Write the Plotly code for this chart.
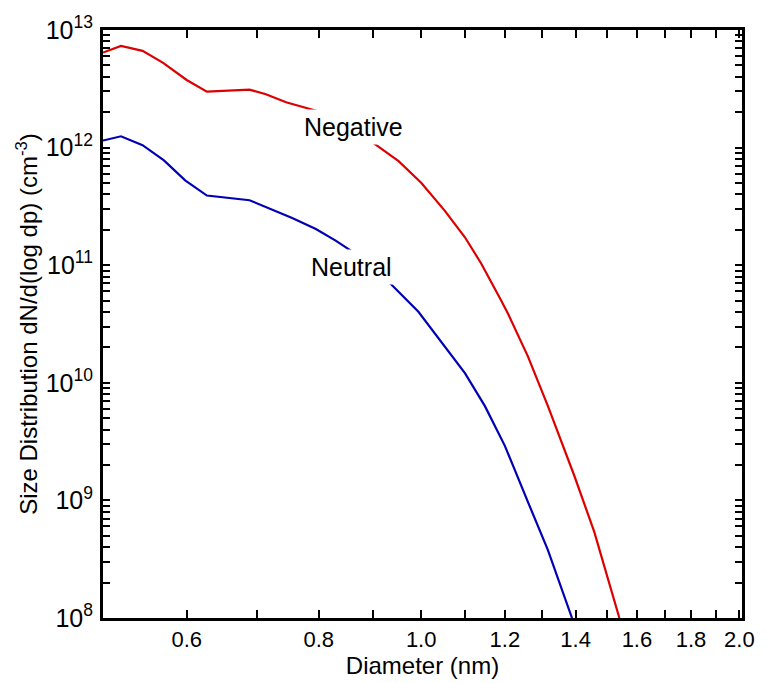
import numpy as np
import plotly.graph_objects as go

# ---- data ----
neg_diam = [0.50, 0.52, 0.545, 0.57, 0.60, 0.627, 0.688, 0.713, 0.745, 0.80,
            0.898, 0.952, 1.00, 1.053, 1.10, 1.14, 1.19, 1.208, 1.262, 1.318,
            1.396, 1.458, 1.54]
neg_conc = [6.43e12, 7.33e12, 6.65e12, 5.26e12, 3.76e12, 2.99e12, 3.11e12, 2.84e12,
            2.43e12, 2.03e12, 1.117e12, 7.67e11, 5.03e11, 2.90e11, 1.727e11,
            1.03e11, 5.04e10, 3.89e10, 1.67e10, 6.33e9, 1.62e9, 5.40e8, 1.0e8]

neu_diam = [0.50, 0.52, 0.545, 0.571, 0.598, 0.627, 0.688, 0.718, 0.755, 0.795,
            0.830, 0.860, 0.932, 0.994, 1.053, 1.10, 1.149, 1.20, 1.262, 1.318,
            1.389]
neu_conc = [1.148e12, 1.248e12, 1.048e12, 7.78e11, 5.27e11, 3.91e11, 3.57e11,
            3.06e11, 2.52e11, 2.03e11, 1.62e11, 1.31e11, 7.20e10, 4.02e10,
            2.03e10, 1.21e10, 6.33e9, 2.91e9, 9.67e8, 3.78e8, 1.0e8]

x_tickvals = [0.6, 0.7, 0.8, 0.9, 1.0, 1.1, 1.2, 1.3, 1.4, 1.5, 1.6, 1.7, 1.8, 1.9, 2.0]
x_ticktext = ["0.6", "", "0.8", "", "1.0", "", "1.2", "", "1.4", "", "1.6", "", "1.8", "", "2.0"]

y_decades = [8, 9, 10, 11, 12, 13]
y_tickvals = []
y_ticktext = []
for d in y_decades:
    for m in range(1, 10):
        if d == 13 and m > 1:
            break
        y_tickvals.append(m * 10.0 ** d)
        y_ticktext.append(f"10<sup>{d}</sup>" if m == 1 else "")

labels = [("Negative", 0.863, 1.487e12), ("Neutral", 0.86, 9.68e10)]

RED = "#dd0000"
BLUE = "#0000b4"
FONT = "Liberation Sans, Arial, sans-serif"

fig = go.Figure()
fig.add_trace(go.Scatter(x=neg_diam, y=neg_conc, mode="lines",
                         line=dict(color=RED, width=2.2), name="Negative"))
fig.add_trace(go.Scatter(x=neu_diam, y=neu_conc, mode="lines",
                         line=dict(color=BLUE, width=2.2), name="Neutral"))

for text, xv, yv in labels:
    fig.add_annotation(x=np.log10(xv), y=np.log10(yv), text=text, showarrow=False,
                       font=dict(family=FONT, size=25, color="black"),
                       bgcolor="white", borderpad=3)

fig.update_layout(
    width=767, height=683,
    margin=dict(l=103, r=22, t=28, b=63),
    paper_bgcolor="white", plot_bgcolor="white",
    showlegend=False,
    font=dict(family=FONT, color="black"),
)
fig.update_xaxes(
    type="log", range=[np.log10(0.5), np.log10(2.0) + 0.0025],
    tickvals=x_tickvals, ticktext=x_ticktext,
    ticks="inside", ticklen=8, tickwidth=2, tickcolor="black",
    showline=True, linewidth=3, linecolor="black", mirror="ticks",
    showgrid=False, zeroline=False,
    tickfont=dict(family=FONT, size=22),
    title=dict(text="Diameter (nm)", font=dict(family=FONT, size=24), standoff=2),
)
fig.update_yaxes(
    type="log", range=[8, 13],
    tickvals=y_tickvals, ticktext=y_ticktext,
    ticks="inside", ticklen=7, tickwidth=2, tickcolor="black",
    showline=True, linewidth=3, linecolor="black", mirror="ticks",
    showgrid=False, zeroline=False,
    tickfont=dict(family=FONT, size=25),
    ticklabelstandoff=2,
    title=dict(text="Size Distribution dN/d(log dp) (cm<sup>-3</sup>)",
               font=dict(family=FONT, size=24), standoff=2),
)

fig.write_html("out.html")
